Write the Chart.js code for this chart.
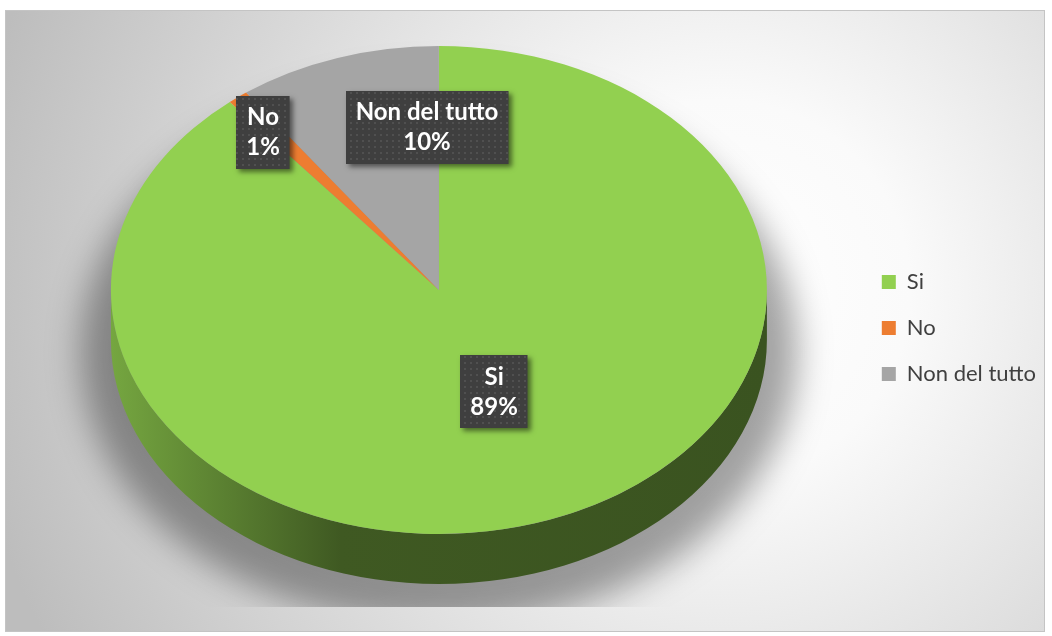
<!DOCTYPE html>
<html lang="it">
<head>
<meta charset="utf-8">
<title>Risposte</title>
<script src="https://cdn.jsdelivr.net/npm/chart.js@4.4.1/dist/chart.umd.min.js"></script>
<style>
  html, body { margin: 0; background: #fff; }
  canvas { display: block; }
</style>
</head>
<body>
<canvas id="torta" width="1052" height="636"></canvas>
<script>
const categorie = ["Si", "No", "Non del tutto"]
const valori = [89, 1, 10]
const colori = ["#92d050", "#ed7d31", "#a5a5a5"]

// dove mettere le etichette: frazione del raggio lungo la bisettrice + spostamento
const posEtichette = [0.47, 0.84, 0.68]
const spostEtichette = [[3, -6], [-7, 4], [57, -5]]

// torta "3D": ellisse schiacciata con spessore
const vista = { cy: 290, rx: 328, ry: 244, spessore: 50, fineOmbra: 607 }

Chart.defaults.font.family = "Lato"

const ombreggia = (hex, f) => {
    const n = parseInt(hex.slice(1), 16)
    const c = [(n >> 16) & 255, (n >> 8) & 255, n & 255].map(v => Math.round(v * f))
    return `rgb(${c[0]}, ${c[1]}, ${c[2]})`
}

const geometria = (chart) => {
    const arcs = chart.getDatasetMeta(0).data
    const { x, y, outerRadius } = arcs[0].getProps(["x", "y", "outerRadius"], true)
    return { arcs, ox: x, oy: y, cx: x, cy: vista.cy, sx: vista.rx / outerRadius, sy: vista.ry / outerRadius }
}

const sfondo = {
    id: "sfondo",
    beforeDraw(chart) {
        const ctx = chart.ctx
        const g = ctx.createRadialGradient(720, 290, 0, 720, 290, 760)
        g.addColorStop(0, "#ffffff")
        g.addColorStop(0.25, "#fafafa")
        g.addColorStop(1, "#bdbdbd")
        ctx.save()
        ctx.fillStyle = g
        ctx.fillRect(5, 10, 1040, 622)
        ctx.strokeStyle = "#c4c4c4"
        ctx.lineWidth = 1
        ctx.strokeRect(5.5, 10.5, 1039, 621)
        ctx.restore()
    }
}

let puntini = null
const trama = (ctx) => {
    if (puntini) return puntini
    const c = document.createElement("canvas")
    c.width = 6
    c.height = 6
    const p = c.getContext("2d")
    p.fillStyle = "rgba(255,255,255,0.09)"
    p.fillRect(2, 2, 2, 2)
    puntini = ctx.createPattern(c, "repeat")
    return puntini
}

const torta3d = {
    id: "torta3d",
    beforeDatasetsDraw(chart) {
        const ctx = chart.ctx
        const g = geometria(chart)

        // ombra sotto la torta (solo l'ombra, la forma resta fuori dal canvas)
        ctx.save()
        ctx.beginPath()
        ctx.rect(0, 0, chart.width, vista.fineOmbra)
        ctx.clip()
        ctx.shadowColor = "rgba(0,0,0,0.36)"
        ctx.shadowBlur = 34
        ctx.shadowOffsetX = 4000
        ctx.fillStyle = "#000"
        ctx.beginPath()
        ctx.ellipse(g.cx - 4000, g.cy + 62, vista.rx + 30, vista.ry + 30, 0, 0, Math.PI * 2)
        ctx.fill()
        ctx.restore()

        // fianco visibile delle fette (parte anteriore, angoli 0..PI)
        g.arcs.forEach((arc, i) => {
            const { startAngle, endAngle } = arc.getProps(["startAngle", "endAngle"], true)
            const a = Math.max(startAngle, 0)
            const b = Math.min(endAngle, Math.PI)
            if (b <= a) return
            const lato = ctx.createLinearGradient(g.cx - vista.rx, 0, g.cx + vista.rx, 0)
            lato.addColorStop(0, ombreggia(colori[i], 0.8))
            lato.addColorStop(0.35, ombreggia(colori[i], 0.43))
            lato.addColorStop(1, ombreggia(colori[i], 0.4))
            ctx.save()
            ctx.fillStyle = lato
            ctx.beginPath()
            ctx.ellipse(g.cx, g.cy, vista.rx, vista.ry, 0, a, b)
            ctx.ellipse(g.cx, g.cy + vista.spessore, vista.rx, vista.ry, 0, b, a, true)
            ctx.closePath()
            ctx.fill()
            ctx.restore()
        })

        // la faccia superiore la disegna Chart.js dentro questa trasformazione
        ctx.save()
        ctx.translate(g.cx, g.cy)
        ctx.scale(g.sx, g.sy)
        ctx.translate(-g.ox, -g.oy)
    },
    afterDatasetsDraw(chart) {
        const ctx = chart.ctx
        ctx.restore()
        const g = geometria(chart)
        const tot = valori.reduce((s, v) => s + v, 0)

        g.arcs.forEach((arc, i) => {
            const { startAngle, endAngle } = arc.getProps(["startAngle", "endAngle"], true)
            const m = (startAngle + endAngle) / 2
            const px = g.cx + vista.rx * posEtichette[i] * Math.cos(m) + spostEtichette[i][0]
            const py = g.cy + vista.ry * posEtichette[i] * Math.sin(m) + spostEtichette[i][1]
            const righe = [categorie[i], Math.round(valori[i] / tot * 100) + "%"]

            ctx.save()
            ctx.font = "bold 24px Lato"
            const w = Math.max(...righe.map(t => ctx.measureText(t).width)) + 20
            const h = 73
            const x0 = Math.round(px - w / 2)
            const y0 = Math.round(py - h / 2)
            ctx.shadowColor = "rgba(0,0,0,0.5)"
            ctx.shadowBlur = 5
            ctx.shadowOffsetX = 3
            ctx.shadowOffsetY = 3
            ctx.fillStyle = "#3f3f3f"
            ctx.fillRect(x0, y0, w, h)
            ctx.shadowColor = "transparent"
            ctx.fillStyle = trama(ctx)
            ctx.fillRect(x0, y0, w, h)
            ctx.fillStyle = "#ffffff"
            ctx.textAlign = "center"
            ctx.textBaseline = "middle"
            ctx.fillText(righe[0], px, py - 15)
            ctx.fillText(righe[1], px, py + 15)
            ctx.restore()
        })
    }
}

new Chart(document.querySelector("#torta"), {
    type: "pie",
    data: {
        labels: categorie,
        datasets: [{
            data: valori,
            backgroundColor: colori,
            borderWidth: 0
        }]
    },
    options: {
        responsive: false,
        animation: false,
        events: [],
        layout: { padding: { left: 20, right: 6, top: 20, bottom: 0 } },
        plugins: {
            legend: {
                position: "right",
                labels: {
                    boxWidth: 14,
                    boxHeight: 14,
                    padding: 24,
                    color: "#404040",
                    font: { family: "Lato", size: 22 }
                }
            },
            tooltip: { enabled: false }
        }
    },
    plugins: [sfondo, torta3d]
})
</script>
</body>
</html>
